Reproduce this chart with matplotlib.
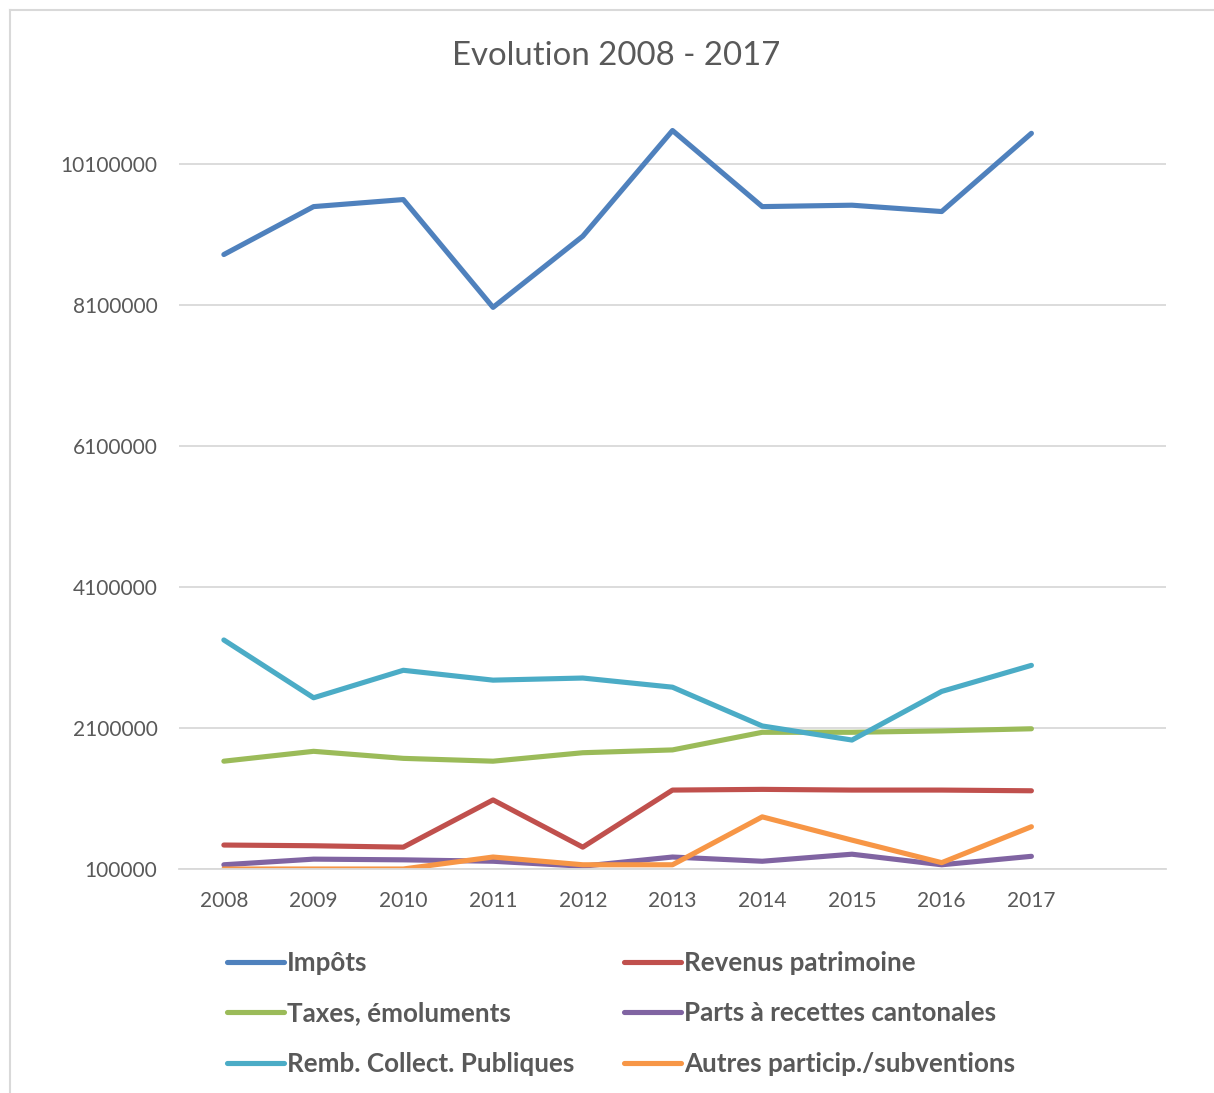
import matplotlib.pyplot as plt
from matplotlib.lines import Line2D

# données
years = ["2008", "2009", "2010", "2011", "2012", "2013", "2014", "2015", "2016", "2017"]

impots = [8820000, 9500000, 9600000, 8070000, 9080000, 10580000, 9500000, 9520000, 9430000, 10540000]
revenus = [440000, 430000, 410000, 1080000, 410000, 1220000, 1230000, 1220000, 1220000, 1210000]
taxes = [1630000, 1770000, 1670000, 1630000, 1750000, 1790000, 2040000, 2040000, 2060000, 2090000]
parts = [160000, 240000, 230000, 210000, 140000, 270000, 210000, 310000, 160000, 280000]
remb = [3350000, 2530000, 2920000, 2780000, 2810000, 2680000, 2130000, 1930000, 2620000, 2990000]
autres = [100000, 100000, 100000, 270000, 160000, 160000, 840000, 510000, 190000, 700000]

yticks = [100000, 2100000, 4100000, 6100000, 8100000, 10100000]

plt.rcParams["font.family"] = ["Lato", "DejaVu Sans"]

TXT = "#595959"
GRID = "#D9D9D9"

fig = plt.figure(figsize=(12.14, 10.93), dpi=100)
ax = fig.add_axes([179 / 1214, 1 - 869 / 1093, (1166 - 179) / 1214, (869 - 115) / 1093])

x = list(range(len(years)))
lw = 3.7
l_imp, = ax.plot(x, impots, color="#4F81BD", lw=lw, solid_capstyle="round", solid_joinstyle="round", label="Impôts")
l_rev, = ax.plot(x, revenus, color="#C0504D", lw=lw, solid_capstyle="round", solid_joinstyle="round", label="Revenus patrimoine")
l_tax, = ax.plot(x, taxes, color="#9BBB59", lw=lw, solid_capstyle="round", solid_joinstyle="round", label="Taxes, émoluments")
l_par, = ax.plot(x, parts, color="#8064A2", lw=lw, solid_capstyle="round", solid_joinstyle="round", label="Parts à recettes cantonales")
l_rem, = ax.plot(x, remb, color="#4BACC6", lw=lw, solid_capstyle="round", solid_joinstyle="round", label="Remb. Collect. Publiques")
l_aut, = ax.plot(x, autres, color="#F79646", lw=lw, solid_capstyle="round", solid_joinstyle="round", label="Autres particip./subventions")

ax.set_xlim(-0.5, 10.5)
ax.set_ylim(100000, 10800000)
ax.set_xticks(x)
ax.set_xticklabels(years)
ax.set_yticks(yticks)
ax.set_yticklabels([str(v) for v in yticks])
ax.tick_params(axis="both", length=0, labelsize=15, labelcolor=TXT)
ax.tick_params(axis="y", pad=15.5)
ax.tick_params(axis="x", pad=15.5)
ax.grid(axis="y", color=GRID, lw=1.3)
ax.set_axisbelow(True)
for s in ["top", "right", "left"]:
    ax.spines[s].set_visible(False)
ax.spines["bottom"].set_color(GRID)
ax.spines["bottom"].set_linewidth(1.3)
ax.set_facecolor("none")

fig.text(616 / 1214, 1 - 56 / 1093, "Evolution 2008 - 2017", ha="center", va="center",
         fontsize=23.8, color=TXT)

# légende sur deux colonnes
leg_kw = dict(frameon=False, handlelength=2.2, handletextpad=0.12,
              labelspacing=1.02, borderpad=0, borderaxespad=0, labelcolor=TXT,
              prop={"weight": "bold", "size": 18.7})
leg1 = fig.legend(handles=[l_imp, l_tax, l_rem], loc="upper left",
                  bbox_to_anchor=(227 / 1214, 1 - 951 / 1093), **leg_kw)
leg2 = fig.legend(handles=[l_rev, l_par, l_aut], loc="upper left",
                  bbox_to_anchor=(624 / 1214, 1 - 951 / 1093), **leg_kw)

# cadre du graphique
fig.add_artist(Line2D([10 / 1214, 10 / 1214], [0, 1 - 10 / 1093], color=GRID, lw=1.5, transform=fig.transFigure))
fig.add_artist(Line2D([10 / 1214, 1], [1 - 10 / 1093, 1 - 10 / 1093], color=GRID, lw=1.5, transform=fig.transFigure))

fig.savefig("out.png", dpi=100, facecolor="white")
